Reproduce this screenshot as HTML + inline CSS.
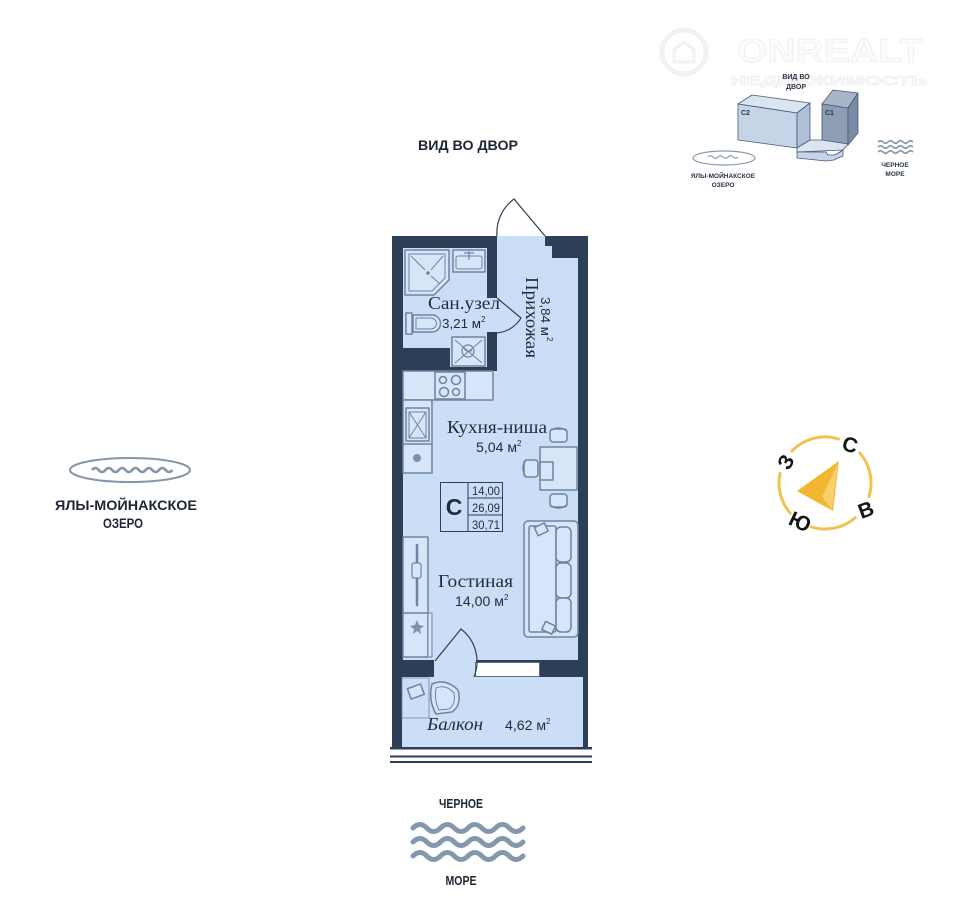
<!DOCTYPE html>
<html><head><meta charset="utf-8">
<style>
html,body{margin:0;padding:0;background:#fff;}
svg{display:block;}
text{font-family:"Liberation Sans",sans-serif;}
text.sf{font-family:"Liberation Serif",serif;}
</style></head><body>
<svg width="960" height="910" viewBox="0 0 960 910" xmlns="http://www.w3.org/2000/svg">
<rect width="960" height="910" fill="#fff"/>

<!-- ===== Watermark ===== -->
<g fill="#fbfbfb" stroke="#ededed" stroke-width="0.7">
  <circle cx="684" cy="52" r="22" fill="none" stroke="#f2f2f2" stroke-width="5"/>
  <path d="M674,62 V50 L684,42 L694,50 V62 Z" fill="none" stroke="#f2f2f2" stroke-width="3"/>
  <text x="737" y="62" font-size="33" font-weight="bold" textLength="186" lengthAdjust="spacingAndGlyphs">ONREALT</text>
  <text x="730" y="85" font-size="13" font-weight="bold" textLength="197" lengthAdjust="spacingAndGlyphs">НЕДВИЖИМОСТЬ</text>
</g>

<!-- ===== Inset ===== -->
<g font-weight="bold" fill="#2a3444" text-anchor="middle">
  <text x="796" y="79" font-size="7">ВИД ВО</text>
  <text x="796" y="89" font-size="7">ДВОР</text>
</g>
<g stroke="#46597a" stroke-width="0.8" stroke-linejoin="round">
  <polygon points="738,104 752,95 810,103 797,113" fill="#dbe4f1"/>
  <polygon points="738,104 797,113 797,148 738,140" fill="#c6d4e8"/>
  <polygon points="797,113 810,103 810,140 797,148" fill="#aebfd7"/>
  <polygon points="822,104 833,90 858,93 848,108" fill="#a9b6c8"/>
  <polygon points="822,104 848,108 848,145 822,140" fill="#8d9db3"/>
  <polygon points="848,108 858,93 858,133 848,145" fill="#7a8ba3"/>
  <polygon points="797,148 810,140 822,140 848,144 843,150 797,152" fill="#dbe4f1"/>
  <polygon points="797,152 826,152 828,155 835,155 843,150 843,156 838,158 834,160 826,161 797,158" fill="#c6d4e8"/>
</g>
<g font-size="7" font-weight="bold" fill="#2a3444">
  <text x="741" y="115">C2</text>
  <text x="825" y="115">C1</text>
</g>
<ellipse cx="724" cy="158" rx="31" ry="7" fill="none" stroke="#8a99ad" stroke-width="1.2"/>
<path d="M708,157 q2.5,-2.5 5,0 t5,0 t5,0 t5,0 t5,0 t5,0" fill="none" stroke="#8a99ad" stroke-width="1.2"/>
<g font-size="6.5" font-weight="bold" fill="#2a3444" text-anchor="middle">
  <text x="723" y="178">ЯЛЫ-МОЙНАКСКОЕ</text>
  <text x="723" y="187">ОЗЕРО</text>
  <text x="895" y="167">ЧЕРНОЕ</text>
  <text x="895" y="176">МОРЕ</text>
</g>
<g fill="none" stroke="#8a99ad" stroke-width="1.6">
  <path d="M878,142 q2.5,-2.5 5,0 t5,0 t5,0 t5,0 t5,0 t5,0 t5,0"/>
  <path d="M878,147 q2.5,-2.5 5,0 t5,0 t5,0 t5,0 t5,0 t5,0 t5,0"/>
  <path d="M878,152 q2.5,-2.5 5,0 t5,0 t5,0 t5,0 t5,0 t5,0 t5,0"/>
</g>

<!-- ===== Top label ===== -->
<text x="468" y="150" font-size="14" font-weight="bold" fill="#1d2633" text-anchor="middle" textLength="100" lengthAdjust="spacingAndGlyphs">ВИД ВО ДВОР</text>

<!-- ===== Lake ===== -->
<ellipse cx="130" cy="470" rx="60" ry="12" fill="none" stroke="#8595aa" stroke-width="2"/>
<path d="M92,470 q3.35,-4 6.7,0 t6.7,0 t6.7,0 t6.7,0 t6.7,0 t6.7,0 t6.7,0 t6.7,0 t6.7,0 t6.7,0 t6.7,0 t6.7,0" fill="none" stroke="#8595aa" stroke-width="2.6"/>
<g font-weight="bold" fill="#1d2633" text-anchor="middle" font-size="13.5">
  <text x="126" y="510" textLength="142" lengthAdjust="spacingAndGlyphs">ЯЛЫ-МОЙНАКСКОЕ</text>
  <text x="123" y="528" textLength="40" lengthAdjust="spacingAndGlyphs">ОЗЕРО</text>
</g>

<!-- ===== Sea ===== -->
<text x="461" y="808" font-size="13" font-weight="bold" fill="#1d2633" text-anchor="middle" textLength="44" lengthAdjust="spacingAndGlyphs">ЧЕРНОЕ</text>
<g fill="none" stroke="#8597ae" stroke-width="5" stroke-linecap="round">
  <path d="M413,828 q6.9,-7 13.75,0 t13.75,0 t13.75,0 t13.75,0 t13.75,0 t13.75,0 t13.75,0 t13.75,0"/>
  <path d="M413,842 q6.9,-7 13.75,0 t13.75,0 t13.75,0 t13.75,0 t13.75,0 t13.75,0 t13.75,0 t13.75,0"/>
  <path d="M413,856 q6.9,-7 13.75,0 t13.75,0 t13.75,0 t13.75,0 t13.75,0 t13.75,0 t13.75,0 t13.75,0"/>
</g>
<text x="461" y="885" font-size="13" font-weight="bold" fill="#1d2633" text-anchor="middle" textLength="31" lengthAdjust="spacingAndGlyphs">МОРЕ</text>

<!-- ===== Compass ===== -->
<g fill="none" stroke="#f2c24f" stroke-width="3" stroke-linecap="round">
  <path d="M859.7,452.8 A46,46 0 0 1 869.0,496.5"/>
  <path d="M855.2,517.7 A46,46 0 0 1 811.5,527.0"/>
  <path d="M790.3,513.2 A46,46 0 0 1 780.0,473.4"/>
  <path d="M791.9,451.0 A46,46 0 0 1 838.5,439.0"/>
</g>
<polygon points="839,461 797,491 833,511" fill="#f2b631"/>
<polygon points="838,463 822,497 832,510" fill="#f8cf6a"/>
<g font-size="21" font-weight="bold" fill="#151515" text-anchor="middle">
  <text x="0" y="7" transform="translate(850,445) rotate(15)">С</text>
  <text x="0" y="7" transform="translate(786,462) rotate(-60)">З</text>
  <text x="0" y="7" transform="translate(866,510) rotate(-20)">В</text>
  <text x="0" y="7" transform="translate(800,522) rotate(25)">Ю</text>
</g>

<!-- ===== Floor plan ===== -->
<rect x="392" y="236" width="196" height="441" fill="#2c3f57"/>
<rect x="392" y="677" width="196" height="71" fill="#2c3f57"/>
<rect x="402" y="677" width="181" height="70" fill="#cadef5"/>
<polygon points="497,236 545,236 545,246 552,246 552,258 578,258 578,660 403,660 403,371 497,371" fill="#cadef5"/>
<polygon points="403,248 487,248 487,367 450,367 450,348 403,348" fill="#cadef5"/>
<rect x="486" y="298" width="12" height="34" fill="#cadef5"/>
<rect x="434" y="659" width="42" height="19" fill="#cadef5"/>
<rect x="475.5" y="662.5" width="64" height="14" fill="#fff" stroke="#5a6b82" stroke-width="1"/>

<!-- bottom lines -->
<rect x="390" y="747" width="202" height="2.5" fill="#2c3f57"/>
<rect x="390" y="755.5" width="202" height="2" fill="#2c3f57"/>
<rect x="390" y="761" width="202" height="2" fill="#2c3f57"/>

<!-- doors -->
<g fill="none" stroke="#2c3f57" stroke-width="1.2">
  <path d="M497,236 A42,42 0 0 1 514,199 L545,236"/>
  <path d="M497,298 L521,318 A31,31 0 0 1 494,333"/>
  <path d="M435,661 L461,629 A41,41 0 0 1 474,677"/>
</g>

<!-- fixtures -->
<g fill="#d6e5f7" stroke="#6f83a0" stroke-width="1.5" stroke-linejoin="round">
  <path d="M405,250 H449 V280 L434,295 H405 Z"/>
  <path d="M409,254 H445 V278 L432,291 H409 Z" stroke-width="1"/>
  <path d="M411,256 L425,270 M443,256 L431,270 M440,284 L431,276" fill="none" stroke-width="1"/>
  <circle cx="428" cy="273" r="1.8" fill="#6f83a0" stroke="none"/>
  <rect x="453" y="250" width="32" height="22"/>
  <rect x="456" y="256" width="26" height="13" rx="2" stroke-width="1"/>
  <path d="M464,253 H474 M469,251 V260" fill="none" stroke-width="1.2"/>
  <rect x="406" y="313" width="6" height="21"/>
  <path d="M413,315 H432 A8.5,8.5 0 0 1 432,332 H413 Z"/>
  <path d="M416,318 H431 A5.5,5.5 0 0 1 431,329 H416 Z" stroke-width="1"/>
  <rect x="452" y="337" width="33" height="29"/>
  <path d="M455,340 L482,363 M482,340 L455,363" fill="none" stroke-width="1"/>
  <circle cx="468" cy="351" r="6" fill="none" stroke-width="1.2"/>
  <path d="M464,348 Q468,354 472,350" fill="none" stroke-width="1.2"/>
  <rect x="403" y="371" width="90" height="29"/>
  <rect x="435" y="372" width="30" height="27"/>
  <circle cx="443" cy="380" r="3.5" fill="none"/>
  <circle cx="456" cy="380" r="4.5" fill="none"/>
  <circle cx="444" cy="392" r="4.5" fill="none"/>
  <circle cx="456" cy="392" r="3.5" fill="none"/>
  <rect x="403" y="400" width="29" height="73"/>
  <rect x="406" y="408" width="23" height="33"/>
  <rect x="409" y="412" width="17" height="26" stroke-width="1"/>
  <path d="M409,412 L426,438 M426,412 L409,438" fill="none" stroke-width="1"/>
  <line x1="403" y1="444" x2="432" y2="444"/>
  <circle cx="417" cy="458" r="4" fill="#7e90aa" stroke="none"/>
  <rect x="540" y="447" width="37" height="43"/>
  <rect x="540" y="462" width="13" height="18"/>
  <rect x="550" y="429" width="17" height="13" rx="3"/>
  <path d="M550,431 Q558,425 567,431" fill="none"/>
  <rect x="524" y="460" width="14" height="17" rx="3"/>
  <path d="M526,460 Q520,468 526,477" fill="none"/>
  <rect x="550" y="494" width="17" height="13" rx="3"/>
  <path d="M550,505 Q558,511 567,505" fill="none"/>
  <rect x="524" y="521" width="54" height="116" rx="4"/>
  <rect x="529" y="526" width="27" height="106" rx="2"/>
  <rect x="556" y="527" width="15" height="35" rx="5"/>
  <rect x="556" y="563" width="15" height="35" rx="5"/>
  <rect x="556" y="598" width="15" height="34" rx="5"/>
  <rect x="536" y="525" width="11" height="9" transform="rotate(-25 541 530)"/>
  <rect x="543" y="623" width="11" height="9" transform="rotate(25 548 628)"/>
  <rect x="403" y="537" width="25" height="120"/>
  <line x1="403" y1="613" x2="428" y2="613"/>
  <rect x="428" y="613" width="4" height="44" stroke-width="1"/>
  <line x1="417" y1="545" x2="417" y2="605" stroke-width="2.5" stroke-linecap="round"/>
  <rect x="412" y="563" width="9" height="15" rx="2" stroke-width="1.2"/>
  <polygon points="417,620 419,625 424,626 420,629 421,634 417,631 413,634 414,629 410,626 415,625" fill="#7e90aa" stroke="none"/>
  <rect x="402" y="678" width="27" height="40" fill="none" stroke-width="0.8"/>
  <rect x="409" y="686" width="14" height="11" transform="rotate(-20 416 692)"/>
  <path d="M432,684 Q446,678 458,690 Q462,705 452,712 L436,714 Q428,700 432,684 Z"/>
  <path d="M436,688 Q446,684 454,693 Q456,704 449,709 L439,710 Q434,700 436,688 Z" stroke-width="1"/>
</g>

<!-- plan text -->
<g fill="#1f2c40">
  <text class="sf" x="428" y="309" font-size="18" textLength="72" lengthAdjust="spacingAndGlyphs">Сан.узел</text>
  <text x="442" y="328" font-size="13" textLength="39" lengthAdjust="spacingAndGlyphs">3,21 м</text>
  <text x="481" y="322" font-size="8">2</text>
  <text class="sf" transform="translate(526,277) rotate(90)" font-size="18" textLength="81" lengthAdjust="spacingAndGlyphs">Прихожая</text>
  <text transform="translate(541,297) rotate(90)" font-size="13" textLength="39" lengthAdjust="spacingAndGlyphs">3,84 м</text>
  <text transform="translate(547,337) rotate(90)" font-size="8">2</text>
  <text class="sf" x="447" y="433" font-size="18" textLength="100" lengthAdjust="spacingAndGlyphs">Кухня-ниша</text>
  <text x="476" y="452" font-size="14" textLength="41" lengthAdjust="spacingAndGlyphs">5,04 м</text>
  <text x="517" y="446" font-size="8">2</text>
  <text class="sf" x="438" y="587" font-size="18" textLength="75" lengthAdjust="spacingAndGlyphs">Гостиная</text>
  <text x="455" y="606" font-size="14" textLength="49" lengthAdjust="spacingAndGlyphs">14,00 м</text>
  <text x="504" y="600" font-size="8">2</text>
  <text class="sf" x="427" y="730" font-style="italic" font-size="18" textLength="56" lengthAdjust="spacingAndGlyphs">Балкон</text>
  <text x="505" y="730" font-size="14" textLength="41" lengthAdjust="spacingAndGlyphs">4,62 м</text>
  <text x="546" y="724" font-size="8">2</text>
</g>

<!-- area box -->
<g fill="none" stroke="#2c3f57" stroke-width="1">
  <rect x="440.5" y="482.5" width="62" height="49"/>
  <line x1="468" y1="482.5" x2="468" y2="531.5"/>
  <line x1="468" y1="498" x2="502.5" y2="498"/>
  <line x1="468" y1="515" x2="502.5" y2="515"/>
</g>
<g fill="#1f2c40">
  <text x="454" y="515" font-size="23" font-weight="bold" text-anchor="middle">C</text>
  <text x="472" y="495" font-size="12" textLength="28" lengthAdjust="spacingAndGlyphs">14,00</text>
  <text x="472" y="512" font-size="12" textLength="28" lengthAdjust="spacingAndGlyphs">26,09</text>
  <text x="472" y="529" font-size="12" textLength="28" lengthAdjust="spacingAndGlyphs">30,71</text>
</g>
</svg>
</body></html>
